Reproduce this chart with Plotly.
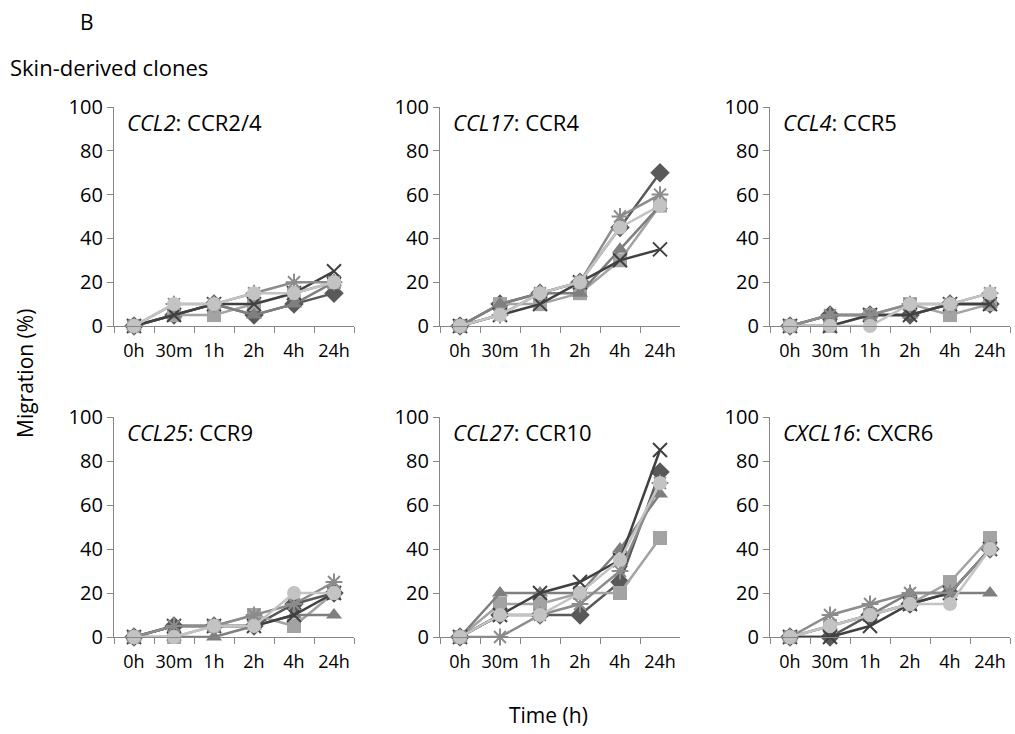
import plotly.graph_objects as go

W, H = 1015, 734

time_points = ["0h", "30m", "1h", "2h", "4h", "24h"]
panel_genes = ["CCL2", "CCL17", "CCL4", "CCL25", "CCL27", "CXCL16"]
panel_receptors = ["CCR2/4", "CCR4", "CCR5", "CCR9", "CCR10", "CXCR6"]

# migration (%) per clone, one list per panel, order: diamond, square, triangle, x, star, circle
ccl2 = [
    [0, 5, 10, 5, 10, 15],
    [0, 5, 5, 10, 15, 20],
    [0, 5, 10, 5, 10, 20],
    [0, 5, 10, 10, 15, 25],
    [0, 10, 10, 15, 20, 20],
    [0, 10, 10, 15, 15, 20],
]
ccl17 = [
    [0, 10, 15, 20, 45, 70],
    [0, 10, 10, 15, 30, 55],
    [0, 10, 15, 15, 35, 55],
    [0, 5, 10, 20, 30, 35],
    [0, 5, 15, 20, 50, 60],
    [0, 5, 15, 20, 45, 55],
]
ccl4 = [
    [0, 5, 5, 5, 10, 10],
    [0, 0, 5, 10, 5, 10],
    [0, 5, 5, 5, 10, 10],
    [0, 0, 5, 5, 10, 10],
    [0, 5, 5, 10, 10, 15],
    [0, 0, 0, 10, 10, 15],
]
ccl25 = [
    [0, 5, 5, 5, 15, 20],
    [0, 0, 5, 10, 5, 20],
    [0, 0, 0, 5, 10, 10],
    [0, 5, 5, 5, 10, 20],
    [0, 5, 5, 10, 15, 25],
    [0, 0, 5, 5, 20, 20],
]
ccl27 = [
    [0, 10, 10, 10, 25, 75],
    [0, 15, 15, 20, 20, 45],
    [0, 20, 20, 20, 40, 65],
    [0, 10, 20, 25, 35, 85],
    [0, 0, 10, 15, 30, 70],
    [0, 10, 10, 20, 35, 70],
]
cxcl16 = [
    [0, 0, 10, 15, 20, 40],
    [0, 5, 10, 15, 25, 45],
    [0, 5, 10, 20, 20, 20],
    [0, 0, 5, 15, 20, 40],
    [0, 10, 15, 20, 20, 40],
    [0, 5, 10, 15, 15, 40],
]
panels = [ccl2, ccl17, ccl4, ccl25, ccl27, cxcl16]

# clone styles: (symbol, colour, open-line marker?)
styles = [
    ("diamond", "#595959", False),
    ("square", "#a3a3a3", False),
    ("triangle-up", "#7f7f7f", False),
    ("x-thin-open", "#404040", True),
    ("asterisk-open", "#8c8c8c", True),
    ("circle", "#c3c3c3", False),
]

FONT = "'Open Sans', Lato, sans-serif"
AXIS_COLOR = "#868686"

# plot-area boxes in pixels: (left, right, top, bottom)
cols = [(114, 354), (440, 680), (770, 1010)]
rows = [(107, 326), (417, 637)]

fig = go.Figure()
layout = {}
annotations = []

for i, data in enumerate(panels):
    r, c = divmod(i, 3)
    x0, x1 = cols[c]
    y0, y1 = rows[r]
    n = i + 1
    xa = "x" if n == 1 else f"x{n}"
    ya = "y" if n == 1 else f"y{n}"
    for vals, (sym, col, open_marker) in zip(data, styles):
        marker = dict(symbol=sym, size=14 if sym != "diamond" else 15, color=col)
        if open_marker:
            marker.update(size=14, line=dict(color=col, width=2))
        else:
            marker.update(line=dict(width=0))
        fig.add_trace(go.Scatter(
            x=time_points, y=vals, mode="lines+markers",
            line=dict(color=col, width=2.5), marker=marker,
            xaxis=xa, yaxis=ya, showlegend=False, cliponaxis=False,
        ))
    layout[f"xaxis{'' if n == 1 else n}"] = dict(
        domain=[x0 / W, x1 / W], anchor=ya, type="category",
        categoryorder="array", categoryarray=time_points,
        range=[-0.5, 5.5], showgrid=False, zeroline=False,
        showline=True, linecolor=AXIS_COLOR, linewidth=1.3,
        ticks="outside", tickson="boundaries", ticklen=6, tickcolor=AXIS_COLOR,
        tickangle=0, ticklabelstandoff=8, automargin=False,
        tickfont=dict(family=FONT, size=18, color="#000"),
    )
    layout[f"yaxis{'' if n == 1 else n}"] = dict(
        domain=[1 - y1 / H, 1 - y0 / H], anchor=xa,
        range=[0, 100], dtick=20, showgrid=False, zeroline=False,
        showline=True, linecolor=AXIS_COLOR, linewidth=1.3,
        ticks="outside", ticklen=6, tickcolor=AXIS_COLOR, automargin=False,
        tickfont=dict(family=FONT, size=20, color="#000"),
    )
    annotations.append(dict(
        text=f"<i>{panel_genes[i]}</i>: {panel_receptors[i]}",
        xref="paper", yref="paper", x=(x0 + 11) / W, y=1 - (y0 + 15) / H,
        xanchor="left", yanchor="middle", showarrow=False,
        font=dict(family=FONT, size=22, color="#000"),
    ))

annotations += [
    dict(text="B", xref="paper", yref="paper", x=87 / W, y=1 - 22 / H,
         xanchor="center", yanchor="middle", showarrow=False,
         font=dict(family=FONT, size=21, color="#000")),
    dict(text="Skin-derived clones", xref="paper", yref="paper", x=8 / W, y=1 - 67 / H,
         xanchor="left", yanchor="middle", showarrow=False,
         font=dict(family=FONT, size=22, color="#000")),
    dict(text="Migration (%)", xref="paper", yref="paper", x=25 / W, y=1 - 374 / H,
         xanchor="center", yanchor="middle", textangle=-90, showarrow=False,
         font=dict(family=FONT, size=21, color="#000")),
    dict(text="Time (h)", xref="paper", yref="paper", x=548 / W, y=1 - 715 / H,
         xanchor="center", yanchor="middle", showarrow=False,
         font=dict(family=FONT, size=21, color="#000")),
]

fig.update_layout(
    width=W, height=H, margin=dict(l=0, r=0, t=0, b=0, autoexpand=False),
    paper_bgcolor="white", plot_bgcolor="white",
    annotations=annotations, **layout,
)

fig.write_html("out.html")
